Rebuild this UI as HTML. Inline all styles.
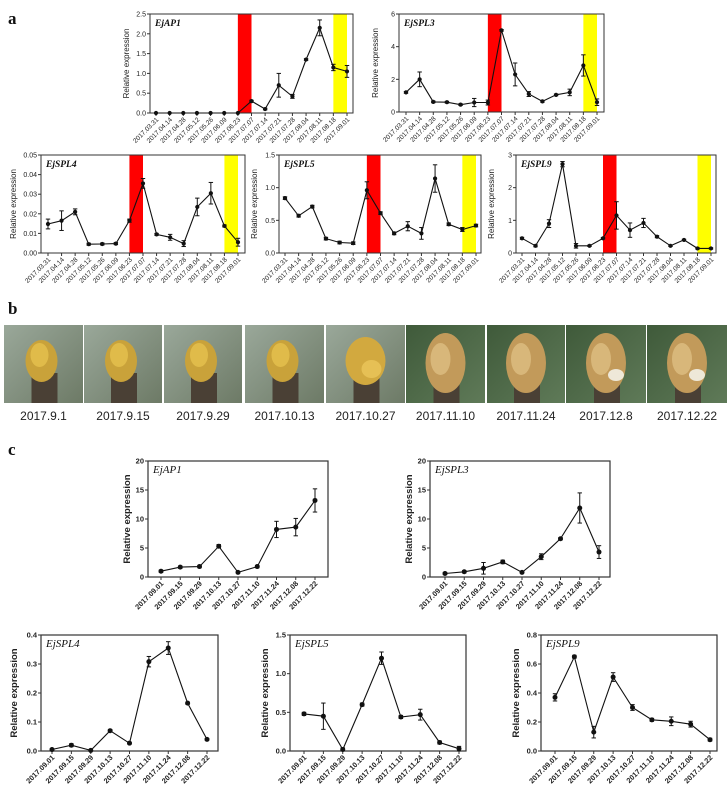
<!DOCTYPE html>
<html><head><meta charset="utf-8">
<style>
html,body{margin:0;padding:0;background:#fff;}
#fig{position:relative;width:728px;height:797px;overflow:hidden;font-family:"Liberation Sans",sans-serif;}
svg{position:absolute;left:0;top:0;}
</style></head>
<body>
<div id="fig">
<svg id="svg" width="728" height="797" viewBox="0 0 728 797"></svg>
</div>
<script>
// ---------- data: panel a ----------
const datesA = ["2017.03.31","2017.04.14","2017.04.28","2017.05.12","2017.05.26","2017.06.09","2017.06.23","2017.07.07","2017.07.14","2017.07.21","2017.07.28","2017.08.04","2017.08.11","2017.08.18","2017.09.01"];
const aAP1 = [0,0,0,0,0,0,0,0.3,0.1,0.7,0.42,1.35,2.15,1.15,1.05];
const aAP1Err = [0,0,0,0,0,0,0,0.02,0.02,0.3,0.05,0.02,0.2,0.08,0.15];
const aSPL3 = [1.2,2.0,0.62,0.6,0.45,0.58,0.58,5.0,2.3,1.1,0.65,1.05,1.2,2.85,0.6];
const aSPL3Err = [0.05,0.45,0.05,0.05,0.05,0.25,0.15,0.05,0.7,0.15,0.05,0.05,0.2,0.65,0.2];
const aSPL4 = [0.0148,0.0165,0.021,0.0045,0.0046,0.0048,0.0165,0.0355,0.0095,0.008,0.0048,0.0235,0.0305,0.0138,0.0055];
const aSPL4Err = [0.0025,0.005,0.0015,0.0005,0.0005,0.0005,0.0008,0.0025,0.0005,0.0015,0.0015,0.0045,0.0055,0.0005,0.002];
const aSPL5 = [0.84,0.57,0.71,0.22,0.16,0.15,0.96,0.61,0.30,0.41,0.30,1.14,0.44,0.36,0.42];
const aSPL5Err = [0.02,0.02,0.02,0.02,0.02,0.02,0.13,0.02,0.02,0.07,0.09,0.21,0.02,0.03,0.02];
const aSPL9 = [0.45,0.22,0.9,2.72,0.22,0.22,0.45,1.15,0.7,0.92,0.5,0.22,0.4,0.14,0.14];
const aSPL9Err = [0.03,0.03,0.12,0.08,0.07,0.02,0.02,0.42,0.22,0.14,0.03,0.02,0.02,0.02,0.02];
const redBand = [6,7];
const yellowBand = [13,14];
const ticksAP1a = [0,0.5,1,1.5,2,2.5];
const tickLabelsAP1a = ["0.0","0.5","1.0","1.5","2.0","2.5"];
const ticksSPL3a = [0,2,4,6];
const tickLabelsSPL3a = ["0","2","4","6"];
const ticksSPL4a = [0,0.01,0.02,0.03,0.04,0.05];
const tickLabelsSPL4a = ["0.00","0.01","0.02","0.03","0.04","0.05"];
const ticksSPL5a = [0,0.5,1,1.5];
const tickLabelsSPL5a = ["0.0","0.5","1.0","1.5"];
const ticksSPL9a = [0,1,2,3];
const tickLabelsSPL9a = ["0","1","2","3"];
// ---------- data: panel c ----------
const datesC = ["2017.09.01","2017.09.15","2017.09.29","2017.10.13","2017.10.27","2017.11.10","2017.11.24","2017.12.08","2017.12.22"];
const cAP1 = [1.0,1.7,1.8,5.3,0.8,1.8,8.2,8.6,13.2];
const cAP1Err = [0.2,0.2,0.2,0.3,0.1,0.2,1.4,1.5,2.0];
const cSPL3 = [0.6,0.9,1.5,2.6,0.8,3.5,6.6,11.9,4.3];
const cSPL3Err = [0.2,0.2,1.0,0.3,0.1,0.5,0.2,2.6,1.1];
const cSPL4 = [0.005,0.02,0.002,0.07,0.027,0.308,0.355,0.165,0.04];
const cSPL4Err = [0.003,0.005,0.003,0.004,0.003,0.018,0.022,0.004,0.003];
const cSPL5 = [0.48,0.45,0.02,0.6,1.2,0.44,0.47,0.11,0.03];
const cSPL5Err = [0.02,0.17,0.02,0.02,0.08,0.02,0.07,0.02,0.03];
const cSPL9 = [0.37,0.65,0.13,0.51,0.3,0.215,0.205,0.185,0.078];
const cSPL9Err = [0.025,0.01,0.04,0.03,0.02,0.01,0.03,0.02,0.01];
const ticksAP1c = [0,5,10,15,20];
const tickLabelsAP1c = ["0","5","10","15","20"];
const ticksSPL3c = [0,5,10,15,20];
const tickLabelsSPL3c = ["0","5","10","15","20"];
const ticksSPL4c = [0,0.1,0.2,0.3,0.4];
const tickLabelsSPL4c = ["0.0","0.1","0.2","0.3","0.4"];
const ticksSPL5c = [0,0.5,1,1.5];
const tickLabelsSPL5c = ["0.0","0.5","1.0","1.5"];
const ticksSPL9c = [0,0.2,0.4,0.6,0.8];
const tickLabelsSPL9c = ["0.0","0.2","0.4","0.6","0.8"];
// ---------- photos ----------
const photoLabels = ["2017.9.1","2017.9.15","2017.9.29","2017.10.13","2017.10.27","2017.11.10","2017.11.24","2017.12.8","2017.12.22"];

const NS = "http://www.w3.org/2000/svg";
const svg = document.getElementById('svg');
function mk(tag, attrs, parent){
  const e = document.createElementNS(NS, tag);
  for (const k in attrs) e.setAttribute(k, attrs[k]);
  (parent||svg).appendChild(e);
  return e;
}

function chart(o){
  const g = mk('g', {});
  
  
  const n = o.dates.length;
  const xs = i => o.px0 + (o.px1 - o.px0) * i / (n - 1);
  const ymax = o.ticks[o.ticks.length-1];
  const ys = v => o.b - (o.b - o.t) * v / ymax;
  if (o.bands){
    const r = mk('rect', {x: xs(redBand[0]), y: o.t, width: xs(redBand[1]) - xs(redBand[0]), height: o.b - o.t, fill: '#ff0000'}, g);
    
    
    const yb = mk('rect', {x: xs(yellowBand[0]), y: o.t, width: xs(yellowBand[1]) - xs(yellowBand[0]), height: o.b - o.t, fill: '#ffff00'}, g);
    
    
  }
  const fr = mk('rect', {x: o.l, y: o.t, width: o.r - o.l, height: o.b - o.t, fill: 'none', stroke: '#333', 'stroke-width': o.c ? 1.2 : 1}, g);
  
  
  // y ticks
  o.ticks.forEach((t, i) => {
    const y = ys(t);
    mk('line', {x1: o.l - 3, x2: o.l, y1: y, y2: y, stroke: '#333', 'stroke-width': 1}, g);
    const tx = mk('text', {x: o.l - 4, y: y + 2.5, 'text-anchor': 'end', 'font-size': o.c ? 7.5 : 7, 'font-weight': o.c ? 'bold' : 'normal', fill: '#222'}, g);
    tx.textContent = o.tickLabels[i];
    
    
  });
  // x ticks and labels
  o.dates.forEach((d, i) => {
    const x = xs(i);
    mk('line', {x1: x, x2: x, y1: o.b, y2: o.b + 3, stroke: '#333', 'stroke-width': 1}, g);
    const tx = mk('text', {x: x + 3, y: o.b + 7, 'text-anchor': 'end', 'font-size': o.c ? 7.3 : 6.6, 'font-weight': o.c ? 'bold' : 'normal', fill: '#222', transform: `rotate(-45 ${x + 3} ${o.b + 7})`}, g);
    tx.textContent = d;
    
    
  });
  // y title
  const yt = mk('text', {x: o.yl, y: (o.t + o.b)/2, 'text-anchor': 'middle', 'font-size': o.c ? 9.5 : 8, 'font-weight': o.c ? 'bold' : 'normal', fill: '#222', transform: `rotate(-90 ${o.yl} ${(o.t + o.b)/2})`}, g);
  yt.textContent = 'Relative expression';
  
  
  // gene label
  const gl = mk('text', {x: o.l + 5, y: o.t + 12, 'font-size': o.c ? 11 : 9.5, 'font-style': 'italic', 'font-weight': o.c ? 'normal' : 'bold', 'font-family': '"Liberation Serif",serif', fill: '#111'}, g);
  gl.textContent = o.gene;
  
  
  // line
  const pts = o.vals.map((v, i) => xs(i).toFixed(1) + ',' + ys(v).toFixed(1)).join(' ');
  const pl = mk('polyline', {points: pts, fill: 'none', stroke: '#111', 'stroke-width': 1.1}, g);
  
  
  o.vals.forEach((v, i) => {
    const x = xs(i), e = o.err[i];
    if (e > 0){
      const y1 = ys(v + e), y2 = ys(Math.max(0, v - e));
      mk('line', {x1: x, x2: x, y1: y1, y2: y2, stroke: '#111', 'stroke-width': 1}, g);
      mk('line', {x1: x - 2.2, x2: x + 2.2, y1: y1, y2: y1, stroke: '#111', 'stroke-width': 1}, g);
      mk('line', {x1: x - 2.2, x2: x + 2.2, y1: y2, y2: y2, stroke: '#111', 'stroke-width': 1}, g);
    }
    const c = mk('circle', {cx: x, cy: ys(v), r: o.c ? 2.5 : 2.1, fill: '#111'}, g);
    
    
  });
}

// panel a
chart({name:'chart-a-ejap1', gene:'EjAP1', dates:datesA, vals:aAP1, err:aAP1Err, ticks:ticksAP1a, tickLabels:tickLabelsAP1a, l:150, r:353, t:14, b:113, px0:156, px1:347, yl:129, bands:true});
chart({name:'chart-a-ejspl3', gene:'EjSPL3', dates:datesA, vals:aSPL3, err:aSPL3Err, ticks:ticksSPL3a, tickLabels:tickLabelsSPL3a, l:399, r:604, t:14, b:112, px0:406, px1:597, yl:378, bands:true});
chart({name:'chart-a-ejspl4', gene:'EjSPL4', dates:datesA, vals:aSPL4, err:aSPL4Err, ticks:ticksSPL4a, tickLabels:tickLabelsSPL4a, l:41, r:245, t:155, b:253, px0:48, px1:238, yl:16, bands:true});
chart({name:'chart-a-ejspl5', gene:'EjSPL5', dates:datesA, vals:aSPL5, err:aSPL5Err, ticks:ticksSPL5a, tickLabels:tickLabelsSPL5a, l:279, r:481, t:155, b:253, px0:285, px1:476, yl:257, bands:true});
chart({name:'chart-a-ejspl9', gene:'EjSPL9', dates:datesA, vals:aSPL9, err:aSPL9Err, ticks:ticksSPL9a, tickLabels:tickLabelsSPL9a, l:516, r:716, t:155, b:253, px0:522, px1:711, yl:494, bands:true});
// panel c
chart({name:'chart-c-ejap1', gene:'EjAP1', dates:datesC, vals:cAP1, err:cAP1Err, ticks:ticksAP1c, tickLabels:tickLabelsAP1c, l:148, r:328, t:461, b:577, px0:161, px1:315, yl:130, c:true});
chart({name:'chart-c-ejspl3', gene:'EjSPL3', dates:datesC, vals:cSPL3, err:cSPL3Err, ticks:ticksSPL3c, tickLabels:tickLabelsSPL3c, l:430, r:610, t:461, b:577, px0:445, px1:599, yl:412, c:true});
chart({name:'chart-c-ejspl4', gene:'EjSPL4', dates:datesC, vals:cSPL4, err:cSPL4Err, ticks:ticksSPL4c, tickLabels:tickLabelsSPL4c, l:41, r:218, t:635, b:751, px0:52, px1:207, yl:17, c:true});
chart({name:'chart-c-ejspl5', gene:'EjSPL5', dates:datesC, vals:cSPL5, err:cSPL5Err, ticks:ticksSPL5c, tickLabels:tickLabelsSPL5c, l:290, r:466, t:635, b:751, px0:304, px1:459, yl:268, c:true});
chart({name:'chart-c-ejspl9', gene:'EjSPL9', dates:datesC, vals:cSPL9, err:cSPL9Err, ticks:ticksSPL9c, tickLabels:tickLabelsSPL9c, l:541, r:717, t:635, b:751, px0:555, px1:710, yl:519, c:true});

// panel letters
[['a',8,24],['b',8,314],['c',8,455]].forEach(p => {
  const t = mk('text', {x:p[1], y:p[2], 'font-size':17, 'font-weight':'bold', 'font-family':'"Liberation Serif",serif', fill:'#111'});
  t.textContent = p[0];
  
  
});

// photos
const defs = mk('defs', {});
const bg1 = mk('linearGradient', {id:'bgA', x1:0, y1:0, x2:1, y2:1}, defs);
mk('stop', {offset:'0', 'stop-color':'#9aa89a'}, bg1); mk('stop', {offset:'1', 'stop-color':'#6d7a66'}, bg1);
const bg2 = mk('linearGradient', {id:'bgB', x1:0, y1:0, x2:1, y2:1}, defs);
mk('stop', {offset:'0', 'stop-color':'#3f5a3a'}, bg2); mk('stop', {offset:'1', 'stop-color':'#5f7a58'}, bg2);
const photoX = [4,84,164,245,326,406,487,566,647];
const photoW = [79,78,78,79,79,79,78,80,80];
photoLabels.forEach((lab, i) => {
  const x = photoX[i], w = photoW[i], y = 325, h = 78;
  const g = mk('g', {});
  
  
  mk('rect', {x, y, width:w, height:h, fill: i < 5 ? 'url(#bgA)' : 'url(#bgB)'}, g);
  const cx = x + w/2;
  // stem
  mk('rect', {x: cx - 12, y: y + 48, width: 26, height: 30, fill: '#4a4035'}, g);
  if (i < 4){
    mk('ellipse', {cx: cx - 2, cy: y + 36, rx: 16, ry: 21, fill: '#c9a23a'}, g);
    mk('ellipse', {cx: cx - 4, cy: y + 30, rx: 9, ry: 12, fill: '#e0bb4a'}, g);
  } else if (i === 4){
    mk('ellipse', {cx: cx, cy: y + 36, rx: 20, ry: 24, fill: '#d2a93f'}, g);
    mk('ellipse', {cx: cx + 6, cy: y + 44, rx: 10, ry: 9, fill: '#e6c055'}, g);
  } else {
    mk('ellipse', {cx: cx, cy: y + 38, rx: 20, ry: 30, fill: '#c29a5a'}, g);
    mk('ellipse', {cx: cx - 5, cy: y + 34, rx: 10, ry: 16, fill: '#d8b77a'}, g);
    if (i >= 7) mk('ellipse', {cx: cx + 10, cy: y + 50, rx: 8, ry: 6, fill: '#eee8d8'}, g);
  }
  const t = mk('text', {x: cx, y: 420, 'text-anchor':'middle', 'font-size': 12, fill:'#222'});
  t.textContent = lab;
  
  
});
</script>
</body></html>
